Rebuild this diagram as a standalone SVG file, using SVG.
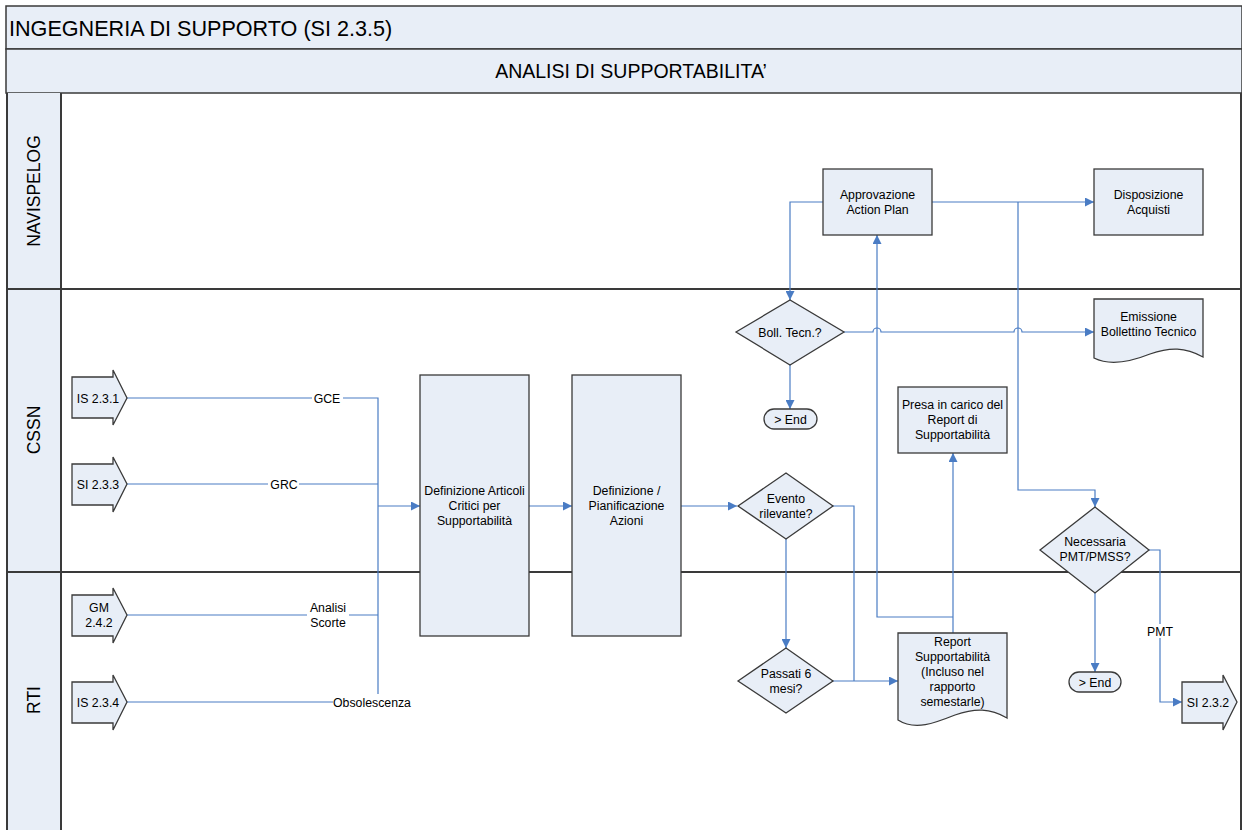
<svg xmlns="http://www.w3.org/2000/svg" width="1242" height="830" viewBox="0 0 1242 830">
<defs>
<marker id="ah" viewBox="0 0 10 10" refX="10" refY="5" markerWidth="9" markerHeight="9" markerUnits="userSpaceOnUse" orient="auto"><path d="M0,0 L10,5 L0,10 Z" fill="#4a7cc4"/></marker>
<style>
.frame{fill:#e8eef7;stroke:#3a3a3a;stroke-width:1.5}
.lane{stroke:#3a3a3a;stroke-width:2;fill:none}
.node{fill:#e8eef7;stroke:#3a3a3a;stroke-width:1.3}
.t{font-family:"Liberation Sans",Arial,sans-serif;font-size:12.3px;fill:#000;text-anchor:middle}
.lbl{font-family:"Liberation Sans",Arial,sans-serif;font-size:17.5px;fill:#000;text-anchor:middle}
.c{fill:none;stroke:#4a7cc4;stroke-width:1.2}
.bg{fill:#fff}
</style>
</defs>
<rect width="1242" height="830" fill="#fff"/>
<g id="header">
<rect class="frame" x="6" y="6" width="1236" height="43"/>
<text x="9" y="36" font-family="'Liberation Sans',Arial,sans-serif" font-size="21.6">INGEGNERIA DI SUPPORTO (SI 2.3.5)</text>
<rect class="frame" x="6" y="49" width="1236" height="44"/>
<text x="631" y="78" font-family="'Liberation Sans',Arial,sans-serif" font-size="19.5" text-anchor="middle">ANALISI DI SUPPORTABILITA’</text>
</g>
<g id="lanes">
<rect x="6" y="93" width="55" height="740" fill="#e8eef7"/>
<line class="lane" x1="7" y1="93" x2="7" y2="830"/>
<line class="lane" x1="61" y1="93" x2="61" y2="830" stroke="#666"/>
<line class="lane" x1="6" y1="289" x2="1242" y2="289"/>
<line class="lane" x1="6" y1="572" x2="1242" y2="572"/>
<line class="lane" x1="1241" y1="93" x2="1241" y2="830"/>
<text class="lbl" transform="translate(39.5,191) rotate(-90)">NAVISPELOG</text>
<text class="lbl" transform="translate(39.5,430) rotate(-90)">CSSN</text>
<text class="lbl" transform="translate(39.5,700) rotate(-90)">RTI</text>
</g>
<g id="connectors">
<path class="c" d="M127,398 H378 V694"/>
<path class="c" d="M127,484 H378"/>
<path class="c" d="M127,615 H378"/>
<path class="c" d="M127,702 H333"/>
<path class="c" d="M378,506 H420" marker-end="url(#ah)"/>
<path class="c" d="M529,506 H572" marker-end="url(#ah)"/>
<path class="c" d="M681,506 H737" marker-end="url(#ah)"/>
<path class="c" d="M833,506 H854 V681"/>
<path class="c" d="M786,539 V648" marker-end="url(#ah)"/>
<path class="c" d="M833,681 H898" marker-end="url(#ah)"/>
<path class="c" d="M953,633 V453" marker-end="url(#ah)"/>
<path class="c" d="M953,617 H877 V235" marker-end="url(#ah)"/>
<path class="c" d="M932,202 H1094" marker-end="url(#ah)"/>
<path class="c" d="M1018,202 V490 H1095 V507" marker-end="url(#ah)"/>
<path class="c" d="M823,202 H790 V300" marker-end="url(#ah)"/>
<path class="c" d="M844,332 H873 A4,4 0 0 1 881,332 H1014 A4,4 0 0 1 1022,332 H1094" marker-end="url(#ah)"/>
<path class="c" d="M790,365 V409" marker-end="url(#ah)"/>
<path class="c" d="M1095,593 V672" marker-end="url(#ah)"/>
<path class="c" d="M1149,550 H1160 V702 H1182" marker-end="url(#ah)"/>
<rect class="bg" x="312" y="391" width="31" height="14"/>
<text class="t" x="327" y="402.5">GCE</text>
<rect class="bg" x="268" y="477" width="31" height="14"/>
<text class="t" x="284" y="488.5">GRC</text>
<rect class="bg" x="307" y="598" width="42" height="30"/>
<text class="t" x="328" y="611.5">Analisi</text>
<text class="t" x="328" y="626.5">Scorte</text>
<text class="t" x="372" y="706.5">Obsolescenza</text>
<rect class="bg" x="1144" y="624" width="32" height="14"/>
<text class="t" x="1160" y="635.5">PMT</text>
</g>
<g id="in_is231"><polygon class="node" points="72,377 113,377 113,370 127,398 113,425 113,418 72,418"/><text class="t" x="98" y="402.5">IS 2.3.1</text></g>
<g id="in_si233"><polygon class="node" points="72,464 113,464 113,457 127,484 113,512 113,505 72,505"/><text class="t" x="98" y="488.5">SI 2.3.3</text></g>
<g id="in_gm242"><polygon class="node" points="72,595 113,595 113,588 127,615 113,643 113,636 72,636"/><text class="t" x="99" y="611.5">GM</text><text class="t" x="99" y="626.5">2.4.2</text></g>
<g id="in_is234"><polygon class="node" points="72,682 113,682 113,675 127,702 113,730 113,723 72,723"/><text class="t" x="98" y="706.5">IS 2.3.4</text></g>
<g id="def_articoli"><rect class="node" x="420" y="375" width="109" height="261"/><text class="t" x="474.5" y="494.5">Definizione Articoli</text><text class="t" x="474.5" y="509.5">Critici per</text><text class="t" x="474.5" y="524.5">Supportabilità</text></g>
<g id="def_azioni"><rect class="node" x="572" y="375" width="109" height="261"/><text class="t" x="626.5" y="494.5">Definizione /</text><text class="t" x="626.5" y="509.5">Pianificazione</text><text class="t" x="626.5" y="524.5">Azioni</text></g>
<g id="evento"><polygon class="node" points="738,506 786,473 833,506 786,539"/><text class="t" x="786" y="502.5">Evento</text><text class="t" x="786" y="517.5">rilevante?</text></g>
<g id="passati"><polygon class="node" points="738,681 786,648 833,681 786,713"/><text class="t" x="786" y="677.5">Passati 6</text><text class="t" x="786" y="692.5">mesi?</text></g>
<g id="report"><path class="node" d="M898,633 H1007 V718 C990,708 975,708 955,715 C935,723 915,731 898,720 Z"/><text class="t" x="952.5" y="645.5">Report</text><text class="t" x="952.5" y="660.5">Supportabilità</text><text class="t" x="952.5" y="675.5">(Incluso nel</text><text class="t" x="952.5" y="690.5">rapporto</text><text class="t" x="952.5" y="705.5">semestarle)</text></g>
<g id="presa"><rect class="node" x="898" y="387" width="109" height="66"/><text class="t" x="952.5" y="408.5">Presa in carico del</text><text class="t" x="952.5" y="423.5">Report di</text><text class="t" x="952.5" y="438.5">Supportabilità</text></g>
<g id="approvazione"><rect class="node" x="823" y="169" width="109" height="66"/><text class="t" x="877.5" y="198.5">Approvazione</text><text class="t" x="877.5" y="213.5">Action Plan</text></g>
<g id="disposizione"><rect class="node" x="1094" y="169" width="109" height="66"/><text class="t" x="1148.5" y="198.5">Disposizione</text><text class="t" x="1148.5" y="213.5">Acquisti</text></g>
<g id="boll"><polygon class="node" points="736,332 790,300 844,332 790,365"/><text class="t" x="790" y="336.5">Boll. Tecn.?</text></g>
<g id="end1"><rect class="node" x="764" y="409" width="53" height="20" rx="10"/><text class="t" x="790.5" y="423.5">&gt; End</text></g>
<g id="emissione"><path class="node" d="M1094,299 H1203 V357 C1185,347 1170,347 1150,354 C1130,362 1110,366 1094,358 Z"/><text class="t" x="1148.5" y="320.5">Emissione</text><text class="t" x="1148.5" y="335.5">Bollettino Tecnico</text></g>
<g id="necessaria"><polygon class="node" points="1040,550 1095,507 1149,550 1095,593"/><text class="t" x="1095" y="545.5">Necessaria</text><text class="t" x="1095" y="560.5">PMT/PMSS?</text></g>
<g id="end2"><rect class="node" x="1069" y="672" width="52" height="20" rx="10"/><text class="t" x="1095" y="686.5">&gt; End</text></g>
<g id="out_si232"><polygon class="node" points="1182,682 1223,682 1223,675 1237,702 1223,730 1223,723 1182,723"/><text class="t" x="1208" y="706.5">SI 2.3.2</text></g>
</svg>
